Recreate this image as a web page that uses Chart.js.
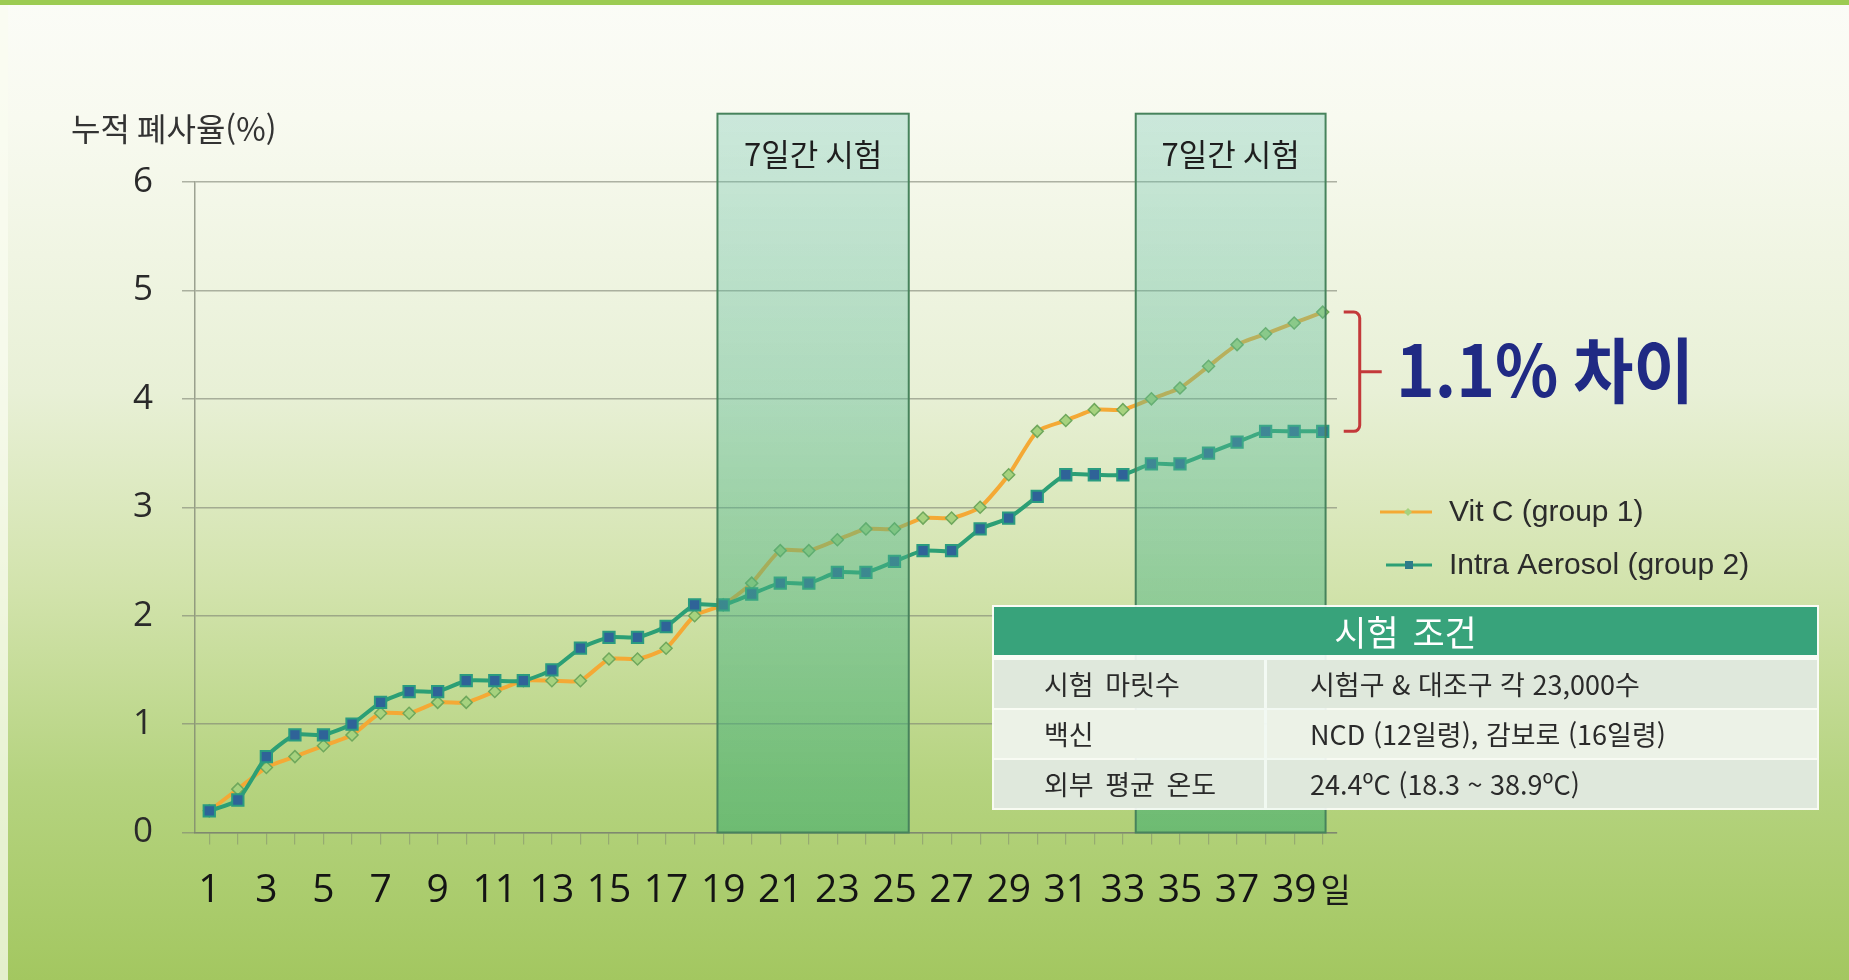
<!DOCTYPE html>
<html lang="ko">
<head>
<meta charset="utf-8">
<title>누적 폐사율</title>
<script src="https://cdn.jsdelivr.net/npm/chart.js@4.4.1/dist/chart.umd.min.js"></script>
<style>
html, body { margin: 0; padding: 0; }
body {
    width: 1849px; height: 980px; overflow: hidden; position: relative;
    background: linear-gradient(to bottom, #fbfcf7 0%, #f8faf0 12%, #e8f0d6 40%, #d2e3ac 60%, #b5d37f 80%, #a3c760 100%);
}
#topbar { position: absolute; left: 0; top: 0; width: 1849px; height: 5px; background: #9ccb52; }
#leftbar { position: absolute; left: 0; top: 5px; width: 8px; height: 975px; background: rgba(250, 252, 240, 0.75); }
#myChart { position: absolute; left: 0; top: 0; }
#conditions {
    position: absolute; left: 992px; top: 605px; width: 827px; padding: 2px;
    box-sizing: border-box; background: rgba(255, 255, 255, 0.9);
    font-family: 'Noto Sans CJK KR', sans-serif;
}
#conditions .head {
    height: 48px; line-height: 48px; background: #38a37b; color: #fff;
    text-align: center; font-size: 35px; margin-bottom: 5px; word-spacing: 4px;
}
#conditions .row { display: flex; height: 48px; margin-top: 2px; }
#conditions .row div { line-height: 48px; font-size: 27px; color: #2a2a2a; box-sizing: border-box; white-space: nowrap; }
#conditions .row .c1 { width: 270px; padding-left: 50px; word-spacing: 4px; }
#conditions .row .c2 { flex: 1; margin-left: 3px; padding-left: 43px; }
#conditions .row.dark div { background: #dfe8dc; }
#conditions .row.light div { background: #ecf2e7; }
</style>
</head>
<body>
<div id="topbar"></div>
<div id="leftbar"></div>
<canvas id="myChart" width="1849" height="980"></canvas>
<div id="conditions"></div>

<script>
//--------------------- Data

//Days of the trial (x axis categories)
var dayLabels = ["1", "2", "3", "4", "5", "6", "7", "8", "9", "10",
    "11", "12", "13", "14", "15", "16", "17", "18", "19", "20",
    "21", "22", "23", "24", "25", "26", "27", "28", "29", "30",
    "31", "32", "33", "34", "35", "36", "37", "38", "39", "40"]

//Cumulative mortality (%) for each group
var vitC = [0.2, 0.4, 0.6, 0.7, 0.8, 0.9, 1.1, 1.1, 1.2, 1.2,
    1.3, 1.4, 1.4, 1.4, 1.6, 1.6, 1.7, 2.0, 2.1, 2.3,
    2.6, 2.6, 2.7, 2.8, 2.8, 2.9, 2.9, 3.0, 3.3, 3.7,
    3.8, 3.9, 3.9, 4.0, 4.1, 4.3, 4.5, 4.6, 4.7, 4.8]

var intraAerosol = [0.2, 0.3, 0.7, 0.9, 0.9, 1.0, 1.2, 1.3, 1.3, 1.4,
    1.4, 1.4, 1.5, 1.7, 1.8, 1.8, 1.9, 2.1, 2.1, 2.2,
    2.3, 2.3, 2.4, 2.4, 2.5, 2.6, 2.6, 2.8, 2.9, 3.1,
    3.3, 3.3, 3.3, 3.4, 3.4, 3.5, 3.6, 3.7, 3.7, 3.7]

var seriesNames = ["Vit C (group 1)", "Intra Aerosol (group 2)"]

//Y axis range and title
var yMin = 0, yMax = 6, yStep = 1
var yTitle = "누적 폐사율(%)"
var xUnit = "일"

//The two 7-day trial windows, in category index units, and their label
var trialWindows = [[17.8, 24.5], [32.45, 39.1]]
var trialTop = 6.63
var trialLabel = "7일간 시험"

//Difference callout
var diffText = "1.1% 차이"

//Trial conditions table
var conditionTitle = "시험 조건"
var conditionNames = ["시험 마릿수", "백신", "외부 평균 온도"]
var conditionValues = ["시험구 & 대조구 각 23,000수", "NCD (12일령), 감보로 (16일령)", "24.4ºC (18.3 ~ 38.9ºC)"]

//--------------------- Colors and fonts

var vitColor = "#f4a935", intraColor = "#2c9f75"
var tickFont = "'Open Sans', sans-serif"
var krFont = "'Noto Sans CJK KR', sans-serif"

//--------------------- Conditions table

function buildTable() {
    var box = document.getElementById("conditions")
    var head = document.createElement("div")
    head.classList.add("head")
    head.textContent = conditionTitle
    box.appendChild(head)

    for (var i = 0; i < conditionNames.length; i++)
    {
        var row = document.createElement("div")
        row.classList.add("row")
        row.classList.add(i % 2 === 0 ? "dark" : "light")
        var c1 = document.createElement("div")
        c1.classList.add("c1")
        c1.textContent = conditionNames[i]
        var c2 = document.createElement("div")
        c2.classList.add("c2")
        c2.textContent = conditionValues[i]
        row.appendChild(c1)
        row.appendChild(c2)
        box.appendChild(row)
    }
}

buildTable()

//--------------------- Extra drawing (trial boxes, callout, legend, titles)

var overlayPlugin = {
    id: "overlayPlugin",
    afterDatasetsDraw: function (chart) {
        var ctx = chart.ctx
        var x = chart.scales.x, y = chart.scales.y
        ctx.save()

        //Translucent trial windows drawn over the lines
        trialWindows.forEach(function (w) {
            var left = x.getPixelForValue(w[0])
            var right = x.getPixelForValue(w[1])
            var top = y.getPixelForValue(trialTop)
            var bottom = y.getPixelForValue(0)
            var g = ctx.createLinearGradient(0, top, 0, bottom)
            g.addColorStop(0, "rgba(110,195,175,0.32)")
            g.addColorStop(1, "rgba(55,170,110,0.55)")
            ctx.fillStyle = g
            ctx.fillRect(left, top, right - left, bottom - top)
            ctx.strokeStyle = "#47835c"
            ctx.lineWidth = 2
            ctx.strokeRect(left, top, right - left, bottom - top)

            ctx.fillStyle = "#1e1e1e"
            ctx.font = "31px " + krFont
            ctx.textAlign = "center"
            ctx.textBaseline = "middle"
            ctx.fillText(trialLabel, (left + right) / 2, top + 41, 142)
        })

        //Red bracket between the last two values
        var last = dayLabels.length - 1
        var xEnd = x.getPixelForValue(last)
        var yTop = y.getPixelForValue(vitC[last])
        var yBot = y.getPixelForValue(intraAerosol[last])
        var x0 = xEnd + 21, x1 = xEnd + 37, x2 = xEnd + 59, r = 6
        var yMid = (yTop + yBot) / 2
        ctx.strokeStyle = "#c3393a"
        ctx.lineWidth = 3
        ctx.beginPath()
        ctx.moveTo(x0, yTop)
        ctx.arcTo(x1, yTop, x1, yTop + r, r)
        ctx.lineTo(x1, yBot - r)
        ctx.arcTo(x1, yBot, x0, yBot, r)
        ctx.lineTo(x0, yBot)
        ctx.moveTo(x1, yMid)
        ctx.lineTo(x2, yMid)
        ctx.stroke()

        ctx.fillStyle = "#202a84"
        ctx.font = "bold 71px " + krFont
        ctx.textAlign = "left"
        ctx.textBaseline = "alphabetic"
        ctx.fillText(diffText, 1396, 397, 298)

        //Legend
        var legendY = [512, 565]
        var colors = [vitColor, intraColor]
        for (var i = 0; i < seriesNames.length; i++)
        {
            ctx.strokeStyle = colors[i]
            ctx.lineWidth = 3
            ctx.beginPath()
            ctx.moveTo(i === 0 ? 1380 : 1386, legendY[i])
            ctx.lineTo(1432, legendY[i])
            ctx.stroke()
            if (i === 0)
            {
                ctx.fillStyle = "#a6d27e"
                ctx.beginPath()
                ctx.moveTo(1408, legendY[i] - 4)
                ctx.lineTo(1412, legendY[i])
                ctx.lineTo(1408, legendY[i] + 4)
                ctx.lineTo(1404, legendY[i])
                ctx.closePath()
                ctx.fill()
            }
            else
            {
                ctx.fillStyle = "#2f7b8a"
                ctx.fillRect(1405, legendY[i] - 4, 8, 8)
            }
            ctx.fillStyle = "#2b2b2b"
            ctx.font = "30px 'Liberation Sans', sans-serif"
            ctx.textBaseline = "middle"
            ctx.fillText(seriesNames[i], 1449, legendY[i] + 1)
        }

        //Y axis title, top left
        ctx.fillStyle = "#333"
        ctx.font = "32px " + krFont
        ctx.textBaseline = "middle"
        ctx.fillText(yTitle, 71, 129, 208)

        //Unit after the last x label
        ctx.font = "39px " + tickFont
        var w39 = ctx.measureText(x.getLabelForValue(38)).width
        ctx.font = "33px " + krFont
        ctx.fillStyle = "#1a1a1a"
        ctx.fillText(xUnit, x.getPixelForValue(38) + w39 / 2 + 4, 889)

        ctx.restore()
    }
}

//--------------------- Chart

const ctx = document.getElementById("myChart")
const myChart = new Chart(ctx, {
    type: "line",
    data: {
        labels: dayLabels,
        datasets: [{
            label: seriesNames[0],
            data: vitC,
            order: 1,
            borderColor: vitColor,
            borderWidth: 4,
            tension: 0.2,
            pointStyle: "rectRot",
            pointRadius: 6,
            pointBackgroundColor: "#a6d27e",
            pointBorderColor: "#6fa85c",
            pointBorderWidth: 1.5
        }, {
            label: seriesNames[1],
            data: intraAerosol,
            order: 0,
            borderColor: intraColor,
            borderWidth: 4,
            tension: 0.2,
            pointStyle: "rect",
            pointRadius: 8,
            pointBackgroundColor: "#2f6398",
            pointBorderColor: "#2a9b80",
            pointBorderWidth: 2
        }]
    },
    options: {
        responsive: false,
        devicePixelRatio: 1,
        animation: false,
        layout: { padding: { top: 182, right: 512, left: 0, bottom: 0 } },
        plugins: {
            legend: { display: false },
            tooltip: { enabled: false }
        },
        scales: {
            x: {
                offset: true,
                grid: {
                    drawOnChartArea: false,
                    drawTicks: true,
                    tickLength: 12,
                    color: "rgba(130,140,110,0.55)",
                    lineWidth: 1.2
                },
                border: { display: true, color: "rgba(120,125,110,0.7)", width: 1.5 },
                ticks: {
                    autoSkip: false,
                    maxRotation: 0,
                    minRotation: 0,
                    padding: 23,
                    color: "#141414",
                    font: { family: tickFont, size: 39 },
                    callback: function (value, index) {
                        return index % 2 === 0 ? this.getLabelForValue(value) : ""
                    }
                },
                afterFit: function (scale) { scale.height = 147.5 }
            },
            y: {
                min: yMin,
                max: yMax,
                ticks: {
                    stepSize: yStep,
                    padding: 29,
                    color: "#2a2a2a",
                    font: { family: tickFont, size: 35 }
                },
                grid: { color: "rgba(125,130,115,0.6)", lineWidth: 1.5, tickLength: 13 },
                border: { display: true, color: "rgba(120,125,110,0.7)", width: 1.5 },
                afterFit: function (scale) { scale.width = 195 }
            }
        }
    },
    plugins: [overlayPlugin]
});
</script>
</body>
</html>
